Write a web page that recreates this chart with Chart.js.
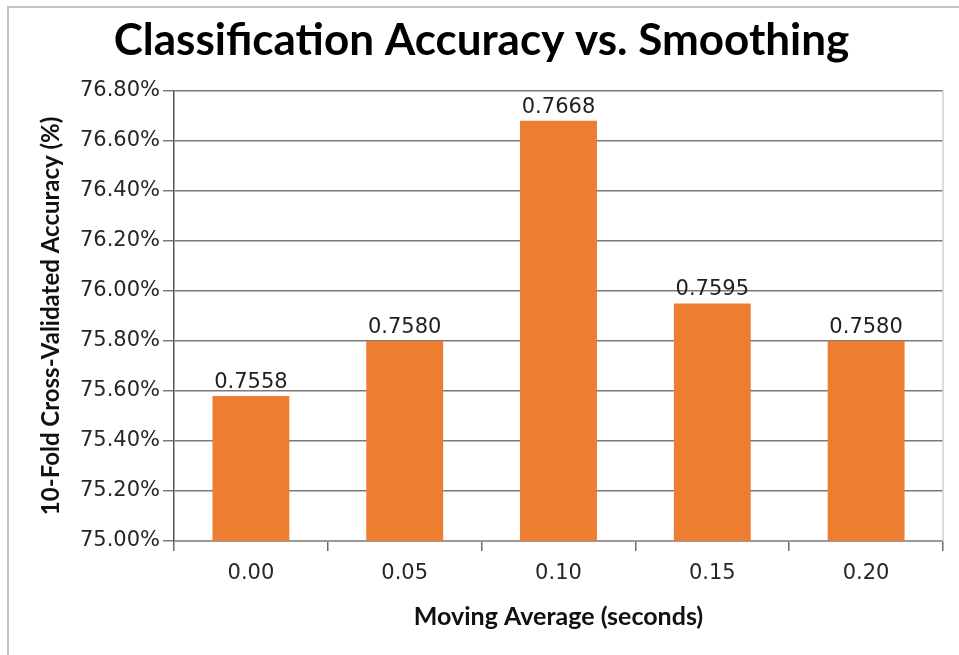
<!DOCTYPE html>
<html>
<head>
<meta charset="utf-8">
<script src="https://cdn.jsdelivr.net/npm/chart.js@4"></script>
<style>
  body { margin: 0; background: #fff; }
  #frame {
    position: absolute; left: 7px; top: 6px; width: 1000px; height: 700px;
    border-left: 2px solid #c4c4c4; border-top: 2px solid #c4c4c4;
  }
  #accChart { position: absolute; left: 0; top: 0; }
</style>
</head>
<body>
<div id="frame"></div>
<canvas id="accChart" width="959" height="655"></canvas>
<script>
// Moving-average window vs. 10-fold CV accuracy
const windows = ['0.00', '0.05', '0.10', '0.15', '0.20'];
const accuracy = [0.7558, 0.7580, 0.7668, 0.7595, 0.7580];

const barColor = '#ED7D31';
const gridColor = '#7a7a7a';

Chart.defaults.font.family = 'DejaVu Sans';
Chart.defaults.color = '#262626';

// Write each bar's value just above it
const valueLabels = {
  id: 'valueLabels',
  afterDatasetsDraw(chart) {
    const ctx = chart.ctx;
    const meta = chart.getDatasetMeta(0);
    ctx.save();
    ctx.font = '21px "DejaVu Sans"';
    ctx.fillStyle = '#1f1f1f';
    ctx.textAlign = 'center';
    ctx.textBaseline = 'alphabetic';
    meta.data.forEach((bar, i) => {
      ctx.fillText(accuracy[i].toFixed(4), bar.x, bar.y - 8);
    });
    ctx.restore();
  }
};

// Light frame line on the right side of the plot
const rightEdge = {
  id: 'rightEdge',
  afterDraw(chart) {
    const { ctx, chartArea } = chart;
    ctx.save();
    ctx.strokeStyle = '#cfcfcf';
    ctx.lineWidth = 1.5;
    ctx.beginPath();
    ctx.moveTo(chartArea.right, chartArea.top);
    ctx.lineTo(chartArea.right, chartArea.bottom);
    ctx.stroke();
    ctx.restore();
  }
};

const ctx = document.getElementById('accChart').getContext('2d');
new Chart(ctx, {
  type: 'bar',
  data: {
    labels: windows,
    datasets: [{
      data: accuracy,
      backgroundColor: barColor,
      barPercentage: 0.5,
      categoryPercentage: 1.0
    }]
  },
  options: {
    responsive: false,
    animation: false,
    devicePixelRatio: 1,
    layout: { padding: { left: 20, right: 16, top: 0, bottom: 0 } },
    plugins: {
      legend: { display: false },
      tooltip: { enabled: false },
      title: {
        display: true,
        text: 'Classification Accuracy vs. Smoothing',
        color: '#000',
        font: { family: 'Lato', size: 44, weight: 'bold' },
        padding: { top: 14, bottom: 24 }
      }
    },
    scales: {
      x: {
        afterFit: scale => { scale.height = 114; },
        grid: {
          offset: true,
          drawOnChartArea: false,
          tickLength: 10,
          color: '#6a6a6a',
          lineWidth: 1.5
        },
        border: { color: '#9a9a9a', width: 2 },
        ticks: { font: { size: 21 }, padding: 10, color: '#262626' },
        title: {
          display: true,
          text: 'Moving Average (seconds)',
          color: '#111',
          font: { family: 'Lato', size: 25, weight: 'bold' },
          padding: { top: 0, bottom: 23 }
        }
      },
      y: {
        min: 0.75,
        max: 0.768,
        afterFit: scale => { scale.width = 154; },
        ticks: {
          stepSize: 0.002,
          font: { size: 21 },
          padding: 3,
          color: '#262626',
          callback: v => (v * 100).toFixed(2) + '%'
        },
        grid: { color: gridColor, lineWidth: 1.5, tickLength: 11 },
        border: { color: '#555', width: 1.5 },
        title: {
          display: true,
          text: '10-Fold Cross-Validated Accuracy (%)',
          color: '#111',
          font: { family: 'Lato', size: 24, weight: 'bold' },
          padding: { top: 17, bottom: 0 }
        }
      }
    }
  },
  plugins: [valueLabels, rightEdge]
});
</script>
</body>
</html>
